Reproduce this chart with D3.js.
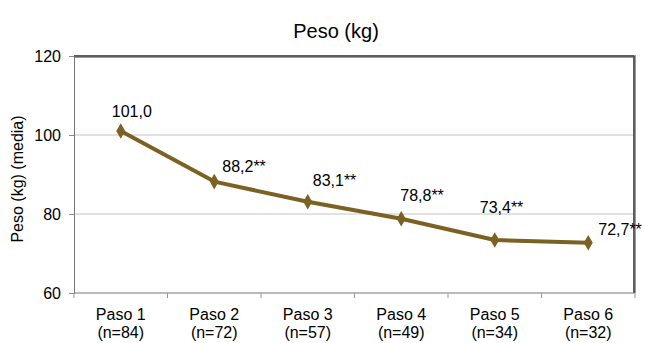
<!DOCTYPE html>
<html><head><meta charset="utf-8">
<script src="https://cdnjs.cloudflare.com/ajax/libs/d3/7.8.5/d3.min.js"></script>
<style>body{margin:0;background:#fff}svg{display:block}text{font-family:"Liberation Sans",Arial,sans-serif;fill:#000}</style>
</head><body><svg id="c" width="645" height="343"></svg>
<script>
const steps = ["Paso 1","Paso 2","Paso 3","Paso 4","Paso 5","Paso 6"];
const counts = ["(n=84)","(n=72)","(n=57)","(n=49)","(n=34)","(n=32)"];
const weights = [101.0, 88.2, 83.1, 78.8, 73.4, 72.7];
const signif = ["", "**", "**", "**", "**", "**"];
const yTicks = [60, 80, 100, 120];
// layout-only label offsets (dx, dy from point)
const labelOffsets = [[-9,-14],[8,-10],[5,-16],[-1,-18],[-15,-27],[10,-8]];

const svg = d3.select("#c");
const m = {l:74, r:635, t:56, b:293};
const x = d3.scaleBand().domain(steps).range([m.l, m.r]);
const y = d3.scaleLinear().domain([60,120]).range([m.b, m.t]);

// gridlines
svg.append("g").selectAll("line").data(yTicks.filter(d=>d>60 && d<120)).join("line")
  .attr("x1", m.l).attr("x2", m.r).attr("y1", d=>y(d)).attr("y2", d=>y(d))
  .attr("stroke", "#c4c4c4").attr("stroke-width", 1);

// frame top/right
svg.append("path").attr("d", `M${m.l},${m.t+0.5}H${m.r-0.5}V${m.b}`)
  .attr("fill","none").attr("stroke","#9a9a9a").attr("stroke-width",3);
svg.append("path").attr("d", `M${m.l},${m.t}H${m.r-1}V${m.b}`)
  .attr("fill","none").attr("stroke","#222").attr("stroke-width",1);

// y axis
const ya = svg.append("g").attr("transform", `translate(${m.l},0)`)
  .call(d3.axisLeft(y).tickValues(yTicks).tickSize(5).tickPadding(8));
ya.select(".domain").attr("stroke","#777");
ya.selectAll(".tick line").attr("stroke","#888");
ya.selectAll("text").attr("font-size","16px").attr("font-family","Liberation Sans, Arial, sans-serif").attr("fill","#000");

// x axis
const xa = svg.append("g").attr("transform", `translate(0,${m.b})`);
xa.append("line").attr("x1", m.l).attr("x2", m.r).attr("y1",0).attr("y2",0).attr("stroke","#777");
const bounds = steps.map(s=>x(s)).concat([m.r]);
xa.selectAll("line.tk").data(bounds).join("line").attr("class","tk")
  .attr("x1", d=>d).attr("x2", d=>d).attr("y1",0).attr("y2",5).attr("stroke","#999");
const xl = svg.append("g").selectAll("text").data(steps).join("text")
  .attr("x", d=>x(d)+x.bandwidth()/2).attr("text-anchor","middle").attr("font-size","16px");
xl.append("tspan").attr("x", d=>x(d)+x.bandwidth()/2).attr("y", 320).text(d=>d);
xl.append("tspan").attr("x", d=>x(d)+x.bandwidth()/2).attr("y", 338).text((d,i)=>counts[i]);

// line
const cx = i => x(steps[i]) + x.bandwidth()/2;
const line = d3.line().x((d,i)=>cx(i)).y(d=>y(d));
svg.append("path").datum(weights).attr("d", line)
  .attr("fill","none").attr("stroke","#7b6122").attr("stroke-width",4).attr("stroke-linejoin","round");
svg.append("g").selectAll("path").data(weights).join("path")
  .attr("d", d3.symbol(d3.symbolDiamond, 70)())
  .attr("transform", (d,i)=>`translate(${cx(i)},${y(d)})`)
  .attr("fill","#7b6122");

// labels
svg.append("g").selectAll("text").data(weights).join("text")
  .attr("x", (d,i)=>cx(i)+labelOffsets[i][0]).attr("y", (d,i)=>y(d)+labelOffsets[i][1])
  .attr("font-size","16px")
  .text((d,i)=>d.toFixed(1).replace(".", ",") + signif[i]);

// title
svg.append("text").attr("x", 336).attr("y", 38).attr("text-anchor","middle")
  .attr("font-size","20px").text("Peso (kg)");
// y title
svg.append("text").attr("transform","translate(23,179) rotate(-90)").attr("text-anchor","middle")
  .attr("font-size","16px").text("Peso (kg) (media)");
</script></body></html>
